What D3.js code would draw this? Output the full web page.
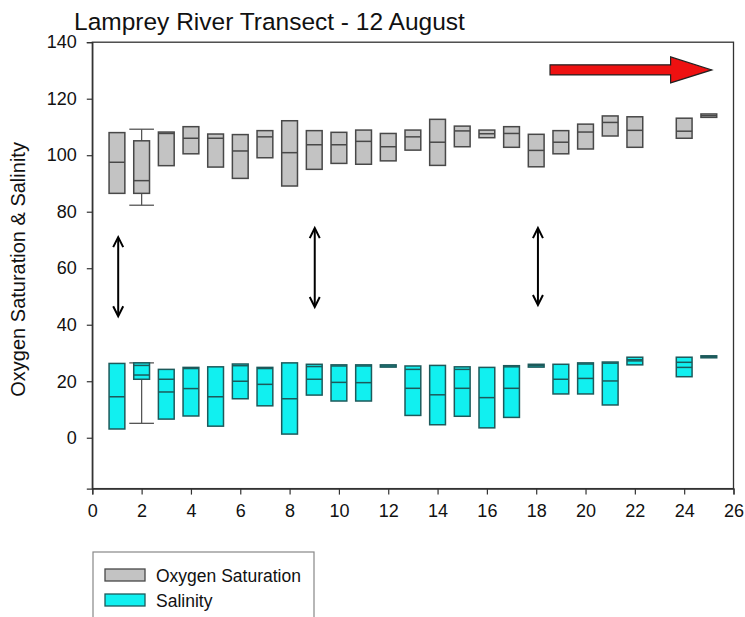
<!DOCTYPE html>
<html>
<head>
<meta charset="utf-8">
<script src="https://cdn.jsdelivr.net/npm/d3@7/dist/d3.min.js"></script>
<style>
  body { margin: 0; background: #fff; }
  svg { display: block; }
  text { font-family: "Liberation Sans", Arial, sans-serif; fill: #111; }
</style>
</head>
<body>
<svg id="chart" width="745" height="617"></svg>
<script>
// ---- data ----
const stations = [1,2,3,4,5,6,7,8,9,10,11,12,13,14,15,16,17,18,19,20,21,22,24,25];

const oxyQ1  = [86.5,86.5,96.3,100.5,95.8,91.8,99.1,89.1,95.0,97.1,96.8,98.0,101.8,96.4,103.0,106.2,102.8,95.9,100.5,102.2,106.8,102.8,106.0,113.4];
const oxyMed = [97.5,91.0,107.7,106.0,106.0,101.5,106.5,100.9,103.7,103.7,104.9,103.0,106.5,104.6,108.6,107.6,107.7,101.7,104.6,108.2,111.6,108.8,108.5,114.0];
const oxyQ3  = [108.0,105.1,108.2,110.1,107.5,107.3,108.7,112.2,108.7,108.1,108.9,107.7,108.9,112.7,110.3,108.9,110.1,107.4,108.7,111.0,113.9,113.6,113.1,114.6];
const oxyLo  = [null,82.3,null,null,null,null,null,null,null,null,null,null,null,null,null,null,null,null,null,null,null,null,null,null];
const oxyHi  = [null,109.2,null,null,null,null,null,null,null,null,null,null,null,null,null,null,null,null,null,null,null,null,null,null];

const salQ1  = [3.1,20.7,6.6,7.7,4.1,13.8,11.3,1.3,15.1,13.0,13.0,25.0,7.9,4.6,7.6,3.5,7.2,25.0,15.5,15.5,11.6,25.8,21.6,28.3];
const salMed = [14.5,22.2,16.2,17.4,14.5,20.0,18.9,13.8,20.7,19.6,19.5,25.4,17.5,15.2,17.5,14.2,17.5,25.5,20.7,21.0,20.1,27.2,24.9,28.7];
const salQ3  = [26.3,26.5,24.2,24.9,25.1,26.1,24.9,26.5,26.0,25.8,25.8,25.8,25.4,25.6,25.1,24.9,25.5,26.0,26.0,26.5,26.8,28.5,28.5,29.0];
const salMean= [null,25.6,20.7,24.5,null,25.5,24.5,null,25.2,25.4,25.4,null,24.2,null,24.2,null,25.1,null,null,26.1,26.4,27.6,26.7,null];
const salLo  = [null,5.1,null,null,null,null,null,null,null,null,null,null,null,null,null,null,null,null,null,null,null,null,null,null];
const salHi  = [null,26.5,null,null,null,null,null,null,null,null,null,null,null,null,null,null,null,null,null,null,null,null,null,null];

const xTicks = [0,2,4,6,8,10,12,14,16,18,20,22,24,26];
const yTicks = [0,20,40,60,80,100,120,140];

// annotation arrows (data units)
const dblArrowX   = [1.05, 9.02, 18.07];
const dblArrowTop = [71.0, 74.2, 74.2];
const dblArrowBot = [43.0, 46.3, 47.0];
const redArrow = {x0: 18.56, xNeck: 23.45, x1: 25.12, y: 130.2, shaftHalf: 1.8, headHalf: 4.6};

const seriesNames = ["Oxygen Saturation", "Salinity"];

// ---- layout ----
const svg = d3.select("#chart");
const L = 92.3, R = 733.5, T = 42.2, B = 488.6;
const x = d3.scaleLinear().domain([0, 26]).range([L, R]);
const y = d3.scaleLinear().domain([-18, 140]).range([B, T]);

// frame
svg.append("rect").attr("x", L).attr("y", T).attr("width", R - L).attr("height", B - T)
  .attr("fill", "none").attr("stroke", "#333").attr("stroke-width", 1.3);

// axes
const yAxis = svg.append("g").attr("transform", `translate(${L},0)`)
  .call(d3.axisLeft(y).tickValues(yTicks).tickSize(5.5).tickPadding(10).tickFormat(d3.format("d")));
const xAxis = svg.append("g").attr("transform", `translate(0,${B})`)
  .call(d3.axisBottom(x).tickValues(xTicks).tickSize(6).tickPadding(10).tickFormat(d3.format("d")));
[yAxis, xAxis].forEach(g => {
  g.select(".domain").attr("stroke", "#333").attr("stroke-width", 1.3);
  g.selectAll(".tick line").attr("stroke", "#333").attr("stroke-width", 1.2);
  g.selectAll(".tick text").attr("font-size", 18).attr("fill", "#111")
    .attr("font-family", "'Liberation Sans', Arial, sans-serif");
});

// boxes
const boxW = 0.64, capW = 1.0;
function drawSeries(q1, med, q3, mean, lo, hi, fill, stroke) {
  const g = svg.append("g");
  stations.forEach((s, i) => {
    const cx = x(s), w = x(boxW) - x(0), cw = x(capW) - x(0);
    if (lo[i] != null) {
      g.append("line").attr("x1", cx).attr("x2", cx).attr("y1", y(lo[i])).attr("y2", y(q1[i]))
        .attr("stroke", "#555").attr("stroke-width", 1.3);
      g.append("line").attr("x1", cx - cw / 2).attr("x2", cx + cw / 2).attr("y1", y(lo[i])).attr("y2", y(lo[i]))
        .attr("stroke", "#555").attr("stroke-width", 1.3);
    }
    if (hi[i] != null) {
      g.append("line").attr("x1", cx).attr("x2", cx).attr("y1", y(hi[i])).attr("y2", y(q3[i]))
        .attr("stroke", "#555").attr("stroke-width", 1.3);
      g.append("line").attr("x1", cx - cw / 2).attr("x2", cx + cw / 2).attr("y1", y(hi[i])).attr("y2", y(hi[i]))
        .attr("stroke", "#555").attr("stroke-width", 1.3);
    }
    g.append("rect").attr("x", cx - w / 2).attr("y", y(q3[i]))
      .attr("width", w).attr("height", Math.max(1.5, y(q1[i]) - y(q3[i])))
      .attr("fill", fill).attr("stroke", stroke).attr("stroke-width", 1.5);
    g.append("line").attr("x1", cx - w / 2).attr("x2", cx + w / 2).attr("y1", y(med[i])).attr("y2", y(med[i]))
      .attr("stroke", stroke).attr("stroke-width", 1.5);
    if (mean && mean[i] != null) {
      g.append("line").attr("x1", cx - w / 2).attr("x2", cx + w / 2).attr("y1", y(mean[i])).attr("y2", y(mean[i]))
        .attr("stroke", stroke).attr("stroke-width", 1.5);
    }
  });
}
drawSeries(oxyQ1, oxyMed, oxyQ3, null, oxyLo, oxyHi, "#c3c3c3", "#484848");
drawSeries(salQ1, salMed, salQ3, salMean, salLo, salHi, "#11f0f0", "#1d5a5b");

// double-headed arrows
dblArrowX.forEach((ax, i) => {
  const cx = x(ax), yt = y(dblArrowTop[i]), yb = y(dblArrowBot[i]);
  const g = svg.append("g").attr("stroke", "#000").attr("stroke-width", 2).attr("fill", "none");
  g.append("line").attr("x1", cx).attr("x2", cx).attr("y1", yt + 1).attr("y2", yb - 1);
  g.append("path").attr("d", `M${cx - 5},${yt + 10} L${cx},${yt} L${cx + 5},${yt + 10}`);
  g.append("path").attr("d", `M${cx - 5},${yb - 10} L${cx},${yb} L${cx + 5},${yb - 10}`);
});

// red arrow
{
  const a = redArrow;
  const pts = [
    [x(a.x0), y(a.y + a.shaftHalf)], [x(a.xNeck), y(a.y + a.shaftHalf)], [x(a.xNeck), y(a.y + a.headHalf)],
    [x(a.x1), y(a.y)], [x(a.xNeck), y(a.y - a.headHalf)], [x(a.xNeck), y(a.y - a.shaftHalf)],
    [x(a.x0), y(a.y - a.shaftHalf)]
  ];
  svg.append("path").attr("d", d3.line()(pts) + "Z")
    .attr("fill", "#ee1111").attr("stroke", "#222").attr("stroke-width", 1.2);
}

// title
svg.append("text").attr("x", 74).attr("y", 30).attr("font-size", 24.5).text("Lamprey River Transect - 12 August");

// y label
svg.append("text").attr("transform", `translate(25,${(T + B) / 2 + 4}) rotate(-90)`)
  .attr("text-anchor", "middle").attr("font-size", 20).text("Oxygen Saturation & Salinity");

// legend
const lg = svg.append("g");
lg.append("rect").attr("x", 93).attr("y", 552).attr("width", 221).attr("height", 80)
  .attr("fill", "#fff").attr("stroke", "#888").attr("stroke-width", 1.2);
const legFills = ["#c3c3c3", "#11f0f0"], legStrokes = ["#484848", "#1d5a5b"];
seriesNames.forEach((n, i) => {
  const yy = 569 + i * 25;
  lg.append("rect").attr("x", 105).attr("y", yy).attr("width", 40).attr("height", 12)
    .attr("fill", legFills[i]).attr("stroke", legStrokes[i]).attr("stroke-width", 1.3);
  lg.append("text").attr("x", 156).attr("y", yy + 13).attr("font-size", 17.5).text(n);
});
</script>
</body>
</html>
